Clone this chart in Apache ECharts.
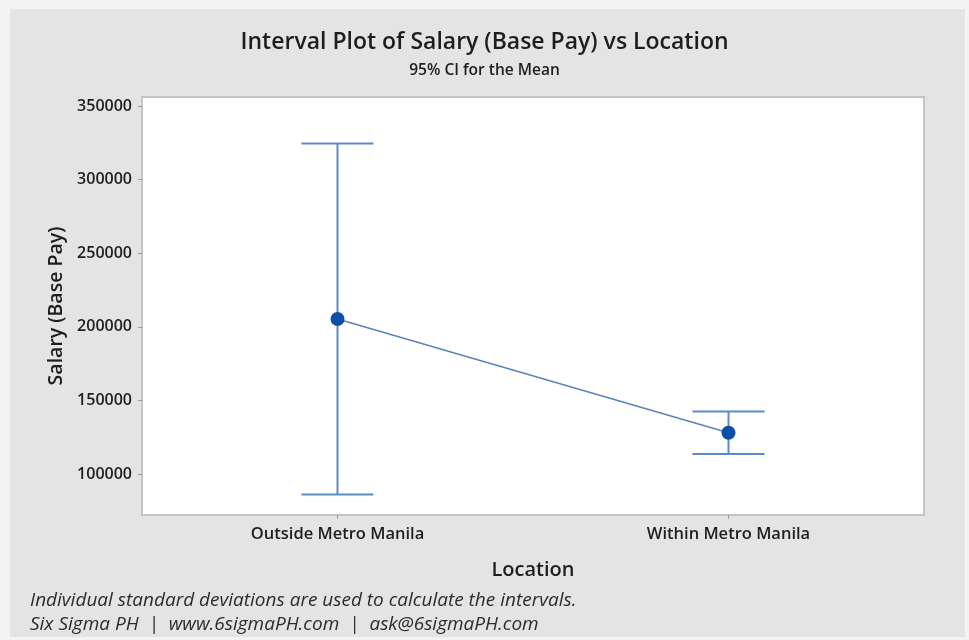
<!DOCTYPE html>
<html>
<head>
<meta charset="utf-8">
<script src="https://cdn.jsdelivr.net/npm/echarts@6/dist/echarts.min.js"></script>
<style>
  html, body { margin: 0; padding: 0; background: #f3f3f3; }
  #chart { width: 969px; height: 640px; }
</style>
</head>
<body>
<div id="chart"></div>
<script>
// interval plot data
var categories = ['Outside Metro Manila', 'Within Metro Manila'];
var means = [205300, 128000];
var lower = [86000, 113600];
var upper = [324500, 142400];
var yTicks = [100000, 150000, 200000, 250000, 300000, 350000];

var barColor = '#5b8cc4';
var dotColor = '#0b4fa8';
var textColor = '#1e1e1e';
var font = 'Open Sans';

var intervalData = categories.map(function (c, i) {
  return [i, lower[i], upper[i]];
});

function renderInterval(params, api) {
  var x = api.value(0);
  var lo = api.coord([x, api.value(1)]);
  var hi = api.coord([x, api.value(2)]);
  var half = 36;
  var style = { stroke: barColor, lineWidth: 2 };
  return {
    type: 'group',
    children: [
      { type: 'line', shape: { x1: lo[0], y1: lo[1], x2: hi[0], y2: hi[1] }, style: style },
      { type: 'line', shape: { x1: hi[0] - half, y1: hi[1], x2: hi[0] + half, y2: hi[1] }, style: style },
      { type: 'line', shape: { x1: lo[0] - half, y1: lo[1], x2: lo[0] + half, y2: lo[1] }, style: style }
    ]
  };
}

function initChart() {
  var chart = echarts.init(document.getElementById('chart'), null, { renderer: 'canvas' });
  var option = {
    backgroundColor: '#f3f3f3',
    animation: false,
    textStyle: { fontFamily: font },
    graphic: [
      {
        type: 'rect', z: -10, silent: true,
        shape: { x: 10, y: 9, width: 955, height: 628 },
        style: { fill: '#e4e4e4' }
      },
      {
        type: 'text', left: 30, top: 591,
        style: { text: 'Individual standard deviations are used to calculate the intervals.', font: 'italic 19px "Open Sans"', fill: '#2c2c2c' }
      },
      {
        type: 'text', left: 30, top: 615,
        style: { text: 'Six Sigma PH  |  www.6sigmaPH.com  |  ask@6sigmaPH.com', font: 'italic 19px "Open Sans"', fill: '#2c2c2c' }
      }
    ],
    title: [
      {
        text: 'Interval Plot of Salary (Base Pay) vs Location',
        left: 'center', top: 26,
        textStyle: { fontSize: 23, fontWeight: 600, color: textColor, fontFamily: font }
      },
      {
        text: '95% CI for the Mean',
        left: 'center', top: 58,
        textStyle: { fontSize: 15.5, fontWeight: 600, color: textColor, fontFamily: font }
      }
    ],
    grid: {
      left: 142, right: 45, top: 97, bottom: 125,
      show: true,
      backgroundColor: '#ffffff',
      borderColor: '#c4c4c4',
      borderWidth: 2
    },
    xAxis: {
      type: 'category',
      data: categories,
      boundaryGap: true,
      name: 'Location',
      nameLocation: 'middle',
      nameGap: 45,
      nameTextStyle: { fontSize: 20, fontWeight: 600, color: textColor },
      axisLine: { show: false },
      axisTick: { show: true, alignWithLabel: true, length: 4, lineStyle: { color: '#999' } },
      axisLabel: { margin: 11, fontSize: 16.5, fontWeight: 600, color: textColor },
      splitLine: { show: false }
    },
    yAxis: {
      type: 'value',
      min: 72150,
      max: 356100,
      name: 'Salary (Base Pay)',
      nameLocation: 'middle',
      nameGap: 75,
      nameTextStyle: { fontSize: 19.5, fontWeight: 600, color: textColor },
      axisLine: { show: false },
      axisTick: { show: true, length: 4, customValues: yTicks, lineStyle: { color: '#999' } },
      axisLabel: {
        margin: 10, fontSize: 16, fontWeight: 600, color: textColor,
        customValues: yTicks,
        formatter: function (v) { return String(v); }
      },
      splitLine: { show: false }
    },
    series: [
      {
        type: 'custom',
        renderItem: renderInterval,
        data: intervalData,
        encode: { x: 0, y: [1, 2] },
        z: 2
      },
      {
        type: 'line',
        data: means,
        symbol: 'circle',
        symbolSize: 14,
        itemStyle: { color: dotColor },
        lineStyle: { color: '#5a84b8', width: 1.5 },
        z: 3
      }
    ]
  };
  chart.setOption(option);
  return chart;
}

initChart();
</script>
</body>
</html>
